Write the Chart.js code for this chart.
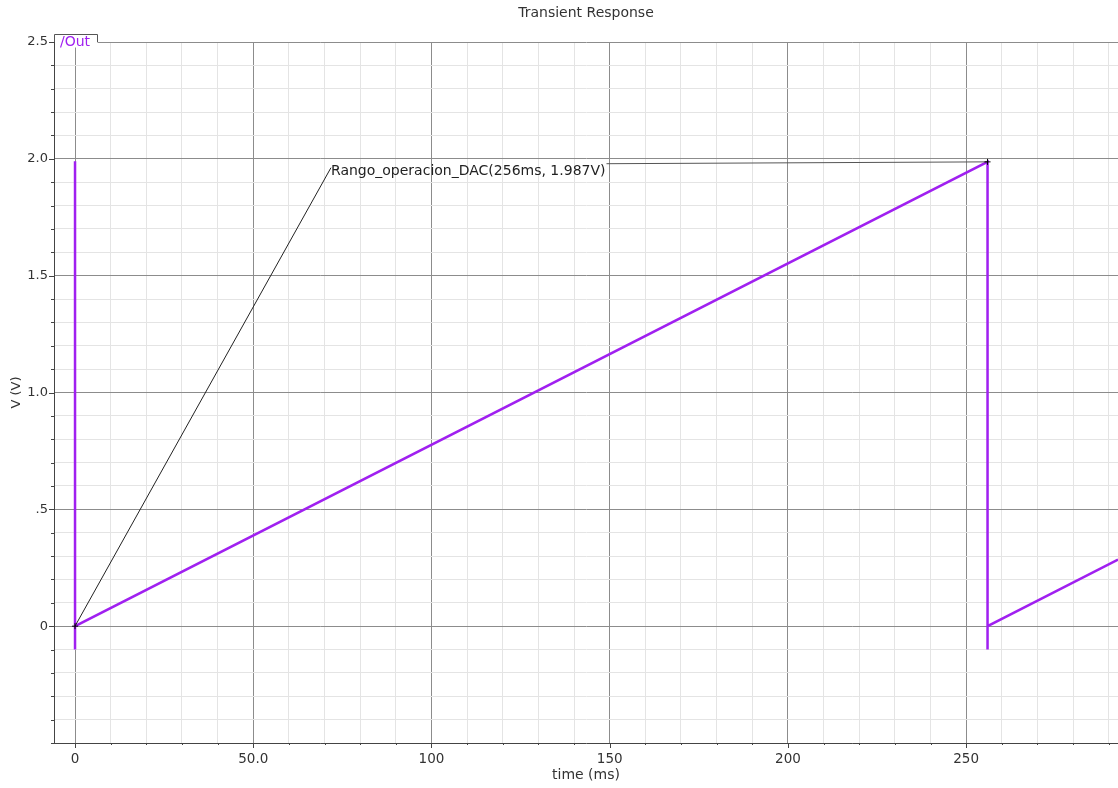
<!DOCTYPE html>
<html>
<head>
<meta charset="utf-8">
<title>Transient Response</title>
<script src="https://cdn.jsdelivr.net/npm/chart.js@4/dist/chart.umd.min.js"></script>
<style>
  html, body { margin: 0; padding: 0; background: #ffffff; }
  #wrap { width: 1118px; height: 788px; }
</style>
</head>
<body>
<div id="wrap"><canvas id="c" width="1118" height="788"></canvas></div>
<script>
// /Out waveform: DAC ramp, reset at 256 ms, then the next ramp begins
const timeMs = [0, 0, 0, 256, 256, 256, 292.6];
const outV   = [1.99, -0.1, 0, 1.987, -0.1, 0, 0.285];

// Axis tick labels (major divisions only)
const xMajorTicks = [0, 50, 100, 150, 200, 250];
const xTickLabels = ['0', '50.0', '100', '150', '200', '250'];
const yMajorTicks = [2.5, 2.0, 1.5, 1.0, 0.5, 0];
const yTickLabels = ['2.5', '2.0', '1.5', '1.0', '.5', '0'];

// Marker: name, reference point and measured point
const markerName = 'Rango_operacion_DAC';
const markerFrom = [0, 0];
const markerTo   = [256, 1.987];

const FONT = 'DejaVu Sans';
const TRACE = '#a020f0';

const near = (a, b) => Math.abs(a - b) < 1e-6;
const isMajorX = v => xMajorTicks.some(m => near(m, v));
const isMajorY = v => yMajorTicks.some(m => near(m, v));

// Custom overlay: tick marks, signal tab and marker annotation
const overlay = {
  id: 'overlay',
  afterDraw(chart) {
    const { ctx, chartArea: a, scales: { x, y } } = chart;
    ctx.save();

    // tick marks on the bottom and left axes
    ctx.strokeStyle = '#444';
    ctx.lineWidth = 1;
    ctx.beginPath();
    x.ticks.forEach(t => {
      const px = Math.round(x.getPixelForValue(t.value)) + 0.5;
      const len = isMajorX(t.value) ? 5 : 2;
      ctx.moveTo(px, a.bottom);
      ctx.lineTo(px, a.bottom + len);
    });
    y.ticks.forEach(t => {
      const py = Math.round(y.getPixelForValue(t.value)) + 0.5;
      const len = isMajorY(t.value) ? 5 : 3;
      ctx.moveTo(a.left, py);
      ctx.lineTo(a.left - len, py);
    });
    ctx.stroke();

    // signal name tab at the top left corner
    const tabTop = a.top - 7.5;
    const tabRight = a.left + 43.5;
    ctx.fillStyle = '#ffffff';
    ctx.fillRect(a.left + 1, tabTop, tabRight - a.left - 1, 13);
    ctx.strokeStyle = '#555';
    ctx.beginPath();
    ctx.moveTo(a.left + 0.5, a.top);
    ctx.lineTo(a.left + 0.5, tabTop);
    ctx.lineTo(tabRight, tabTop);
    ctx.lineTo(tabRight, a.top);
    ctx.stroke();
    ctx.fillStyle = TRACE;
    ctx.font = '14px "' + FONT + '"';
    ctx.textBaseline = 'alphabetic';
    ctx.textAlign = 'left';
    ctx.fillText('/Out', a.left + 6, a.top + 4);

    // marker annotation
    const fx = x.getPixelForValue(markerFrom[0]);
    const fy = y.getPixelForValue(markerFrom[1]);
    const tx = x.getPixelForValue(markerTo[0]);
    const ty = y.getPixelForValue(markerTo[1]);
    const lx = x.getPixelForValue(71.8);
    const ly = y.getPixelForValue(1.962);
    const label = markerName + '(' + markerTo[0] + 'ms, ' + markerTo[1] + 'V)';
    ctx.font = '14px "' + FONT + '"';
    const w = ctx.measureText(label).width;

    ctx.strokeStyle = '#222';
    ctx.lineWidth = 1;
    ctx.beginPath();
    ctx.moveTo(fx, fy);
    ctx.lineTo(lx, ly);
    ctx.stroke();

    ctx.strokeStyle = '#555';
    ctx.beginPath();
    ctx.moveTo(lx + w + 1, ly - 4);
    ctx.lineTo(tx, ty);
    ctx.stroke();

    ctx.fillStyle = '#222';
    ctx.fillText(label, lx, ly + 7);

    // small cross marks on both marker points
    ctx.strokeStyle = '#000';
    ctx.beginPath();
    [[fx, fy], [tx, ty]].forEach(([px, py]) => {
      ctx.moveTo(px - 3, py); ctx.lineTo(px + 3, py);
      ctx.moveTo(px, py - 3); ctx.lineTo(px, py + 3);
    });
    ctx.stroke();

    ctx.restore();
  }
};

const points = timeMs.map((t, i) => ({ x: t, y: outV[i] }));

new Chart(document.getElementById('c'), {
  type: 'line',
  data: {
    datasets: [{
      label: '/Out',
      data: points,
      borderColor: TRACE,
      backgroundColor: TRACE,
      borderWidth: 2.5,
      pointRadius: 0,
      tension: 0,
      fill: false
    }]
  },
  options: {
    responsive: false,
    animation: false,
    devicePixelRatio: 1,
    layout: { padding: { left: 0, right: 0, top: 0, bottom: 0 } },
    plugins: {
      legend: { display: false },
      tooltip: { enabled: false },
      title: {
        display: true,
        text: 'Transient Response',
        fullSize: false,
        color: '#333',
        font: { family: FONT, size: 14, weight: 'normal' },
        padding: { top: 4.6, bottom: 20.6 }
      }
    },
    scales: {
      x: {
        type: 'linear',
        min: -5.9,
        max: 292.6,
        afterFit: s => { s.height = 45; },
        border: { display: true, color: '#444', width: 1 },
        grid: {
          drawTicks: false,
          color: c => (c.tick && isMajorX(c.tick.value)) ? '#8c8c8c' : '#e4e4e4',
          lineWidth: 1
        },
        ticks: {
          stepSize: 10,
          includeBounds: false,
          autoSkip: false,
          maxRotation: 0,
          padding: 8,
          color: '#333',
          font: { family: FONT, size: 13.5 },
          callback: v => {
            const i = xMajorTicks.findIndex(m => near(m, v));
            return i >= 0 ? xTickLabels[i] : '';
          }
        },
        title: {
          display: true,
          text: 'time (ms)',
          color: '#333',
          font: { family: FONT, size: 14 },
          padding: { top: 0, bottom: 4.6 }
        }
      },
      y: {
        type: 'linear',
        min: -0.5,
        max: 2.5,
        afterFit: s => { s.width = 54; },
        border: { display: true, color: '#444', width: 1 },
        grid: {
          drawTicks: false,
          color: c => (c.tick && isMajorY(c.tick.value)) ? '#8c8c8c' : '#e4e4e4',
          lineWidth: 1
        },
        ticks: {
          stepSize: 0.1,
          includeBounds: false,
          autoSkip: false,
          padding: 6,
          color: '#333',
          font: { family: FONT, size: 13 },
          callback: v => {
            const i = yMajorTicks.findIndex(m => near(m, v));
            return i >= 0 ? yTickLabels[i] : '';
          }
        },
        title: {
          display: true,
          text: 'V (V)',
          color: '#333',
          font: { family: FONT, size: 13 },
          padding: { top: 9, bottom: 0 }
        }
      }
    }
  },
  plugins: [overlay]
});
</script>
</body>
</html>
